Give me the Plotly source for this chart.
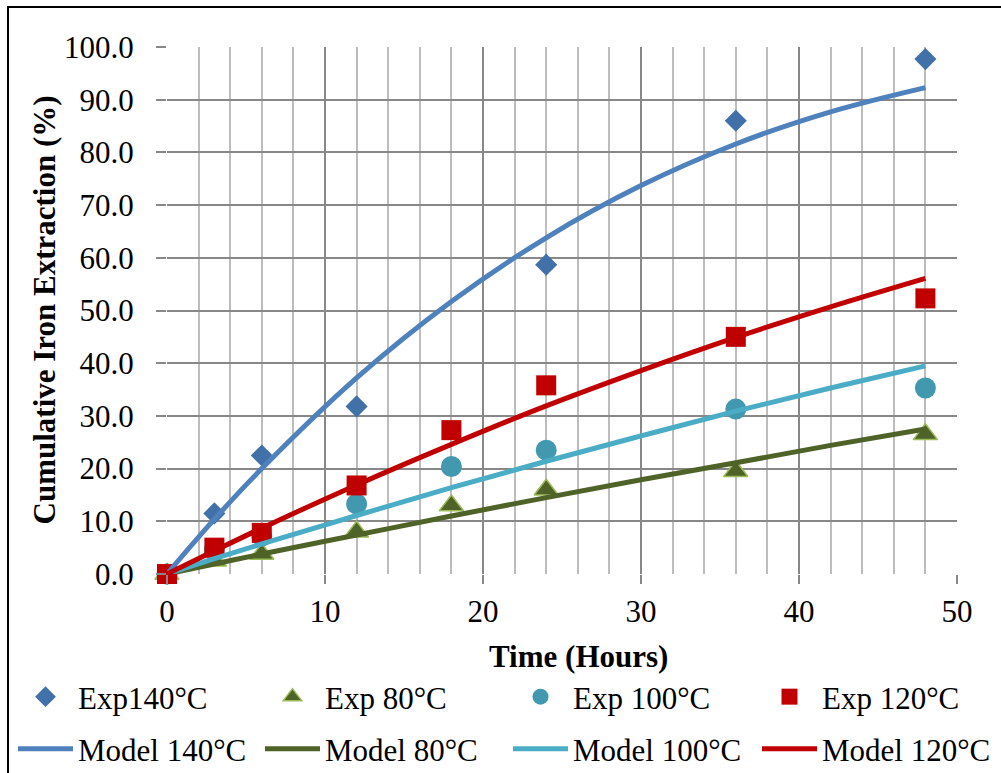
import plotly.graph_objects as go

# ---------------- data ----------------
t_exp140 = [0, 3, 6, 12, 24, 36, 48]
exp140 = [0.0, 11.5, 22.5, 31.8, 58.7, 86.0, 97.7]

t_exp80 = [0, 3, 6, 12, 18, 24, 36, 48]
exp80 = [0.0, 2.5, 3.8, 8.0, 13.0, 16.0, 19.5, 26.5]

t_exp100 = [0, 3, 6, 12, 18, 24, 36, 48]
exp100 = [0.0, 4.6, 7.2, 13.3, 20.4, 23.5, 31.3, 35.3]

t_exp120 = [0, 3, 6, 12, 18, 24, 36, 48]
exp120 = [0.0, 5.0, 7.8, 16.8, 27.3, 35.8, 45.0, 52.3]

t_model = [0, 3, 6, 12, 18, 24, 30, 36, 42, 48]
model140 = [0.0, 10.4, 20.0, 37.2, 51.7, 63.8, 73.7, 81.6, 87.7, 92.3]
model80 = [0.0, 1.9, 3.8, 7.4, 11.0, 14.5, 17.9, 21.1, 24.4, 27.5]
model100 = [0.0, 2.9, 5.7, 11.1, 16.4, 21.4, 26.2, 30.9, 35.3, 39.5]
model120 = [0.0, 4.4, 8.7, 16.9, 24.6, 31.9, 38.6, 44.9, 50.7, 56.1]

x_ticks = [0, 10, 20, 30, 40, 50]
y_ticks = [0, 10, 20, 30, 40, 50, 60, 70, 80, 90, 100]

FONT = "Liberation Serif"
FS = 31

fig = go.Figure()

# experimental series (markers)
fig.add_trace(go.Scatter(x=t_exp140, y=exp140, mode="markers", name="Exp140°C",
                         marker=dict(symbol="diamond", size=17, color="#4271A9"),
                         cliponaxis=False, legend="legend"))
fig.add_trace(go.Scatter(x=t_exp80, y=exp80, mode="markers", name="Exp 80°C",
                         marker=dict(symbol="triangle-up", size=21, color="#4F6228",
                                     line=dict(color="#9BBB59", width=1.5)),
                         cliponaxis=False, legend="legend2"))
fig.add_trace(go.Scatter(x=t_exp100, y=exp100, mode="markers", name="Exp 100°C",
                         marker=dict(symbol="circle", size=21, color="#4198AF"),
                         cliponaxis=False, legend="legend3"))
fig.add_trace(go.Scatter(x=t_exp120, y=exp120, mode="markers", name="Exp 120°C",
                         marker=dict(symbol="square", size=20, color="#C00000"),
                         cliponaxis=False, legend="legend4"))

# model series (smooth lines)
fig.add_trace(go.Scatter(x=t_model, y=model140, mode="lines", name="Model 140°C",
                         line=dict(color="#4F81BD", width=5, shape="spline"),
                         cliponaxis=False, legend="legend5"))
fig.add_trace(go.Scatter(x=t_model, y=model80, mode="lines", name="Model 80°C",
                         line=dict(color="#4F6228", width=5, shape="spline"),
                         cliponaxis=False, legend="legend6"))
fig.add_trace(go.Scatter(x=t_model, y=model100, mode="lines", name="Model 100°C",
                         line=dict(color="#4BACC6", width=5, shape="spline"),
                         cliponaxis=False, legend="legend7"))
fig.add_trace(go.Scatter(x=t_model, y=model120, mode="lines", name="Model 120°C",
                         line=dict(color="#C00000", width=5, shape="spline"),
                         cliponaxis=False, legend="legend8"))

W, H = 1001, 773
col_x = [13, 260, 508, 757]
row_y = [697, 749]

def leg(cx, cy):
    return dict(x=cx / W, y=1 - cy / H, xref="container", yref="container",
                xanchor="left", yanchor="middle", orientation="v",
                bgcolor="rgba(0,0,0,0)", borderwidth=0, itemwidth=55,
                font=dict(family=FONT, size=FS, color="black"))

legends = {}
names = ["legend", "legend2", "legend3", "legend4", "legend5", "legend6", "legend7", "legend8"]
for i, nm in enumerate(names):
    legends[nm] = leg(col_x[i % 4], row_y[i // 4])

fig.update_layout(
    width=W, height=H,
    margin=dict(l=167, r=44, t=47, b=199, autoexpand=False),
    paper_bgcolor="white", plot_bgcolor="white",
    font=dict(family=FONT, size=FS, color="black"),
    showlegend=True,
    **legends,
    xaxis=dict(range=[0, 50], tickvals=x_ticks, ticktext=[str(v) for v in x_ticks],
               showgrid=True, gridcolor="#888888", gridwidth=1.5,
               minor=dict(dtick=2, showgrid=True, gridcolor="#BDBDBD", gridwidth=1.5),
               ticks="outside", ticklen=9, tickcolor="#888888", tickwidth=1.5,
               showline=False, zeroline=False, ticklabelstandoff=1,
               tickfont=dict(family=FONT, size=FS, color="black")),
    yaxis=dict(range=[0, 100], tickvals=y_ticks, tickformat=".1f",
               showgrid=True, gridcolor="#888888", gridwidth=1.5,
               ticks="outside", ticklen=10, tickcolor="#888888", tickwidth=1.5,
               showline=False, zeroline=False, ticklabelstandoff=16,
               tickfont=dict(family=FONT, size=FS, color="black")),
    annotations=[
        dict(text="<b>Time (Hours)</b>", xref="paper", yref="paper",
             x=(578 - 167) / 790, y=(574 - 656) / 527,
             xanchor="center", yanchor="middle", showarrow=False,
             font=dict(family=FONT, size=FS, color="black")),
        dict(text="<b>Cumulative Iron Extraction (%)</b>", xref="paper", yref="paper",
             x=(44 - 167) / 790, y=0.5, textangle=-90,
             xanchor="center", yanchor="middle", showarrow=False,
             font=dict(family=FONT, size=FS, color="black")),
    ],
    shapes=[dict(type="rect", xref="paper", yref="paper",
                 x0=(8 - 167) / 790, x1=(1005 - 167) / 790,
                 y0=(574 - 778) / 527, y1=(574 - 7) / 527,
                 line=dict(color="black", width=2), fillcolor="rgba(0,0,0,0)",
                 layer="below")],
)

fig.write_html("out.html")
